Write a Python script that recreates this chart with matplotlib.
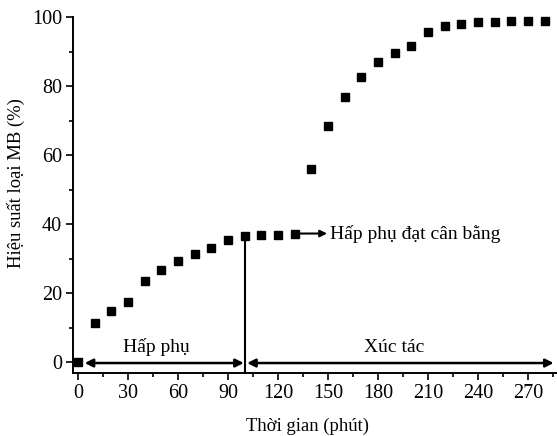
import matplotlib.pyplot as plt
from matplotlib.ticker import MultipleLocator

plt.rcParams['font.family'] = ['Liberation Serif', 'DejaVu Serif']

# thời gian (phút) và hiệu suất loại MB (%)
time_min = [0, 10, 20, 30, 40, 50, 60, 70, 80, 90, 100, 110, 120, 130,
            140, 150, 160, 170, 180, 190, 200, 210, 220, 230, 240, 250, 260, 270, 280]
removal = [0, 11.5, 14.9, 17.6, 23.5, 26.7, 29.4, 31.4, 33.1, 35.4, 36.5, 36.9, 37.0, 37.3,
           55.9, 68.5, 76.9, 82.6, 86.9, 89.6, 91.6, 95.6, 97.4, 98.1, 98.6, 98.6, 98.8, 98.8, 98.9]

eq_time = 100
x_ticks = [0, 30, 60, 90, 120, 150, 180, 210, 240, 270]
y_ticks = [0, 20, 40, 60, 80, 100]

fig = plt.figure(figsize=(5.57, 4.36), dpi=100)
ax = fig.add_axes([73 / 557, 1 - 372.7 / 436, (557 - 73) / 557, (372.7 - 17) / 436])

ax.plot(time_min, removal, linestyle='none', marker='s', markersize=6.3,
        color='black', clip_on=False, zorder=3)

ax.set_xlim(-3, 287.5)
ax.set_ylim(-3, 100)
ax.set_xticks(x_ticks)
ax.set_yticks(y_ticks)
ax.xaxis.set_minor_locator(MultipleLocator(15))
ax.yaxis.set_minor_locator(MultipleLocator(10))
ax.tick_params(which='major', direction='out', length=5, width=1.2, labelsize=14.5, pad=3)
ax.tick_params(which='minor', direction='out', length=3, width=1.2)
for side in ['top', 'right']:
    ax.spines[side].set_visible(False)
for side in ['left', 'bottom']:
    ax.spines[side].set_linewidth(1.4)

ax.set_xlabel('Thời gian (phút)', fontsize=13.4)
ax.set_ylabel('Hiệu suất loại MB (%)', fontsize=13.4)
ax.xaxis.set_label_coords(0.485, -0.126)
ax.yaxis.set_label_coords(-0.100, 0.532)

# đường phân chia giai đoạn hấp phụ / xúc tác
ax.plot([eq_time, eq_time], [-3, removal[time_min.index(eq_time)]],
        color='black', linewidth=1.5, clip_on=False)

arrow_kw = dict(arrowstyle='<|-|>', color='black', lw=1.8, mutation_scale=12,
                shrinkA=0, shrinkB=0)
ax.annotate('', xy=(4, -0.2), xytext=(99.5, -0.2), arrowprops=arrow_kw)
ax.annotate('', xy=(101.5, -0.2), xytext=(285.5, -0.2), arrowprops=arrow_kw,
            annotation_clip=False)
ax.text(47, 1.8, 'Hấp phụ', fontsize=14, ha='center', va='bottom')
ax.text(190, 1.8, 'Xúc tác', fontsize=14, ha='center', va='bottom')

# mũi tên chỉ điểm cân bằng hấp phụ
eq_level = removal[-16]
ax.annotate('', xy=(149.5, eq_level), xytext=(133.5, eq_level),
            arrowprops=dict(arrowstyle='-|>', color='black', lw=1.5,
                            mutation_scale=10, shrinkA=0, shrinkB=0))
ax.text(151, eq_level, 'Hấp phụ đạt cân bằng', fontsize=14, ha='left', va='center')

fig.savefig('out.png', dpi=100)
